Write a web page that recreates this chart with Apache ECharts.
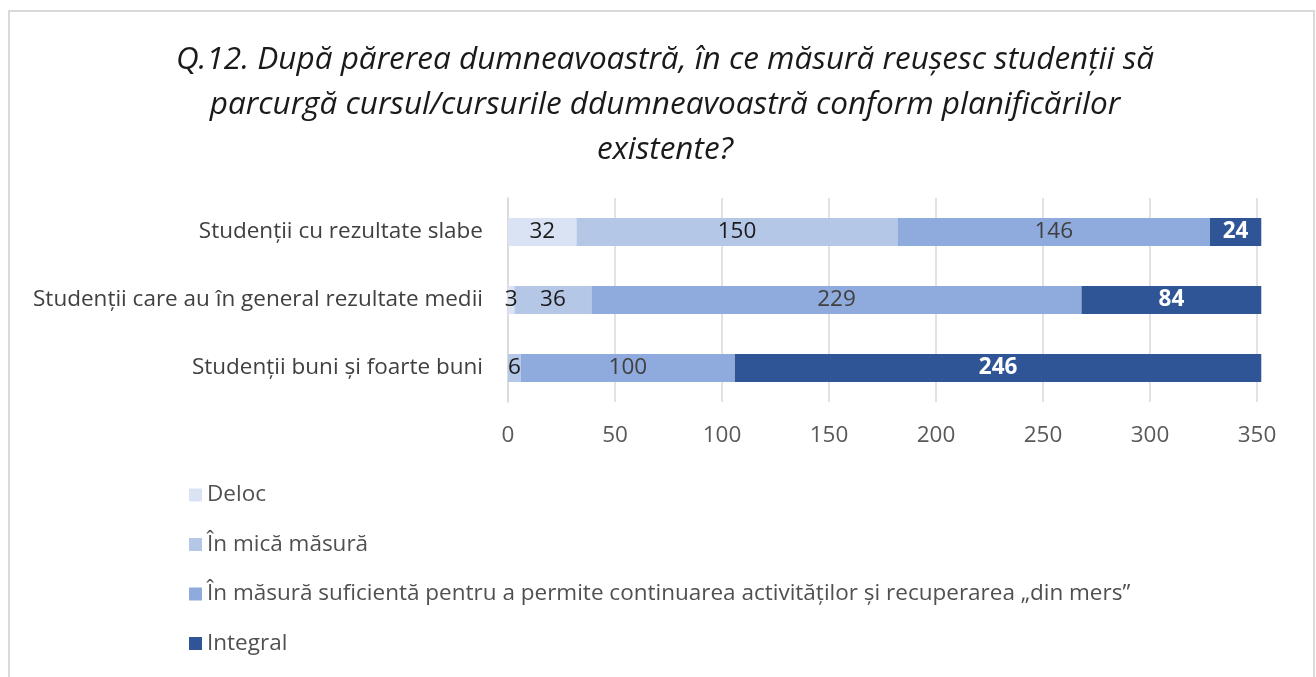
<!DOCTYPE html>
<html>
<head>
<meta charset="utf-8">
<script src="https://cdn.jsdelivr.net/npm/echarts@6/dist/echarts.min.js"></script>
<style>
  html, body { margin: 0; padding: 0; background: #fff; }
  #chart { width: 1316px; height: 677px; }
</style>
</head>
<body>
<div id="chart"></div>
<script>
// categories, bottom -> top (as ECharts draws a category y axis)
var categories = [
  "Studenții buni și foarte buni",
  "Studenții care au în general rezultate medii",
  "Studenții cu rezultate slabe"
];
var seriesNames = [
  "Deloc",
  "În mică măsură",
  "În măsură suficientă pentru a permite continuarea activităților și recuperarea „din mers”",
  "Integral"
];
var deloc = [0, 3, 32];
var mica = [6, 36, 150];
var suficienta = [100, 229, 146];
var integral = [246, 84, 24];
var xTicks = [0, 50, 100, 150, 200, 250, 300, 350];

var colors = ["#dae3f3", "#b4c7e7", "#8faadc", "#2f5597"];
var labelColors = ["#1a1a1a", "#1a1a1a", "#404040", "#ffffff"];
var values = [deloc, mica, suficienta, integral];

var font = "'Open Sans', 'Noto Sans', sans-serif";

var myChart = echarts.init(document.getElementById("chart"));

var series = values.map(function (data, i) {
  return {
    name: seriesNames[i],
    type: "bar",
    stack: "total",
    barWidth: 28,
    clip: false,
    itemStyle: { color: colors[i] },
    label: {
      show: true,
      position: "inside",
      color: labelColors[i],
      fontSize: 22.5,
      fontFamily: font,
      fontWeight: i === 3 ? "bold" : "normal",
      formatter: function (p) {
        return p.value === 0 ? "" : p.value;
      }
    },
    data: data
  };
});

myChart.setOption({
  animation: false,
  title: {
    text: "Q.12. După părerea dumneavoastră, în ce măsură reușesc studenții să\nparcurgă cursul/cursurile ddumneavoastră conform planificărilor\nexistente?",
    left: 660,
    top: 33,
    textAlign: "center",
    textStyle: {
      fontFamily: font,
      fontStyle: "italic",
      fontWeight: "normal",
      fontSize: 31.5,
      lineHeight: 45,
      color: "#1a1a1a"
    }
  },
  graphic: [{
    type: "rect",
    shape: { x: 9, y: 11, width: 1305, height: 700 },
    style: { fill: "none", stroke: "#d9d9d9", lineWidth: 2 },
    silent: true,
    z: -1
  }],
  legend: {
    orient: "vertical",
    left: 184,
    top: 475,
    bottom: 0,
    itemWidth: 13,
    itemHeight: 13,
    itemGap: 19.5,
    icon: "rect",
    textStyle: {
      fontFamily: font,
      fontSize: 22.5,
      color: "#505050",
      height: 30,
      lineHeight: 30
    },
    data: seriesNames
  },
  grid: {
    left: 508,
    right: 59,
    top: 198,
    height: 204,
    containLabel: false
  },
  xAxis: {
    type: "value",
    min: xTicks[0],
    max: xTicks[xTicks.length - 1],
    interval: 50,
    axisLine: { show: false },
    axisTick: { show: false },
    splitLine: { lineStyle: { color: "#d9d9d9", width: 1.5 } },
    axisLabel: {
      fontFamily: font,
      fontSize: 22.5,
      color: "#595959",
      margin: 22
    }
  },
  yAxis: {
    type: "category",
    data: categories,
    axisLine: { show: true, lineStyle: { color: "#d9d9d9", width: 1.5 } },
    axisTick: { show: false },
    axisLabel: {
      fontFamily: font,
      fontSize: 22.5,
      color: "#404040",
      margin: 25
    }
  },
  series: series
});
</script>
</body>
</html>
